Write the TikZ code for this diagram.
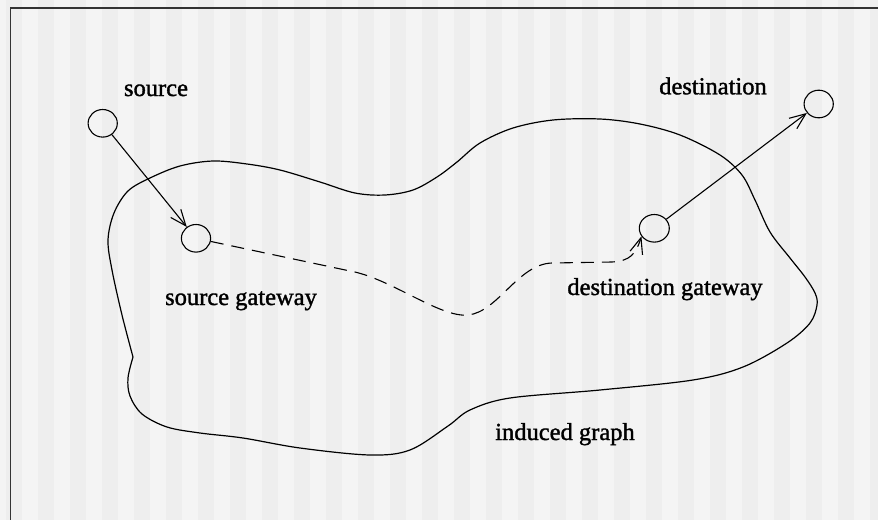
\documentclass[tikz,border=0pt]{standalone}
\usepackage{fontspec}
\setmainfont{Liberation Serif}
\newfontfamily\lblfont{Liberation Serif}[FakeBold=1.4]
\usetikzlibrary{shapes.geometric,arrows.meta,positioning}

\definecolor{stripelight}{HTML}{F4F4F4}
\definecolor{stripedark}{HTML}{EEEEEE}
\definecolor{framegray}{HTML}{333333}

\begin{document}
\begin{tikzpicture}[
  x=0.5pt, y=-0.5pt,
  font=\lblfont\fontsize{12.25}{14}\selectfont,
  hostnode/.style={draw, ellipse, line width=0.55pt, minimum width=14.6pt,
                   minimum height=13.8pt, inner sep=0pt},
  lbl/.style={anchor=base, inner sep=0pt},
  arr/.style={-{Straight Barb[length=8pt, width=6.5pt]}, line width=0.55pt},
  dashline/.style={arr, dash pattern=on 6.5pt off 4pt},
  blob/.style={line width=0.6pt},
]

%% ---------- background ----------
\useasboundingbox (0,0) rectangle (878,520);
\fill[stripelight] (0,0) rectangle (878,520);
\foreach \i in {0,...,27}
  \fill[stripedark] ({6+32*\i},0) rectangle ({22+32*\i},520);
\draw[framegray, line width=0.8pt] (878,8) -- (10.5,8) -- (10.5,520);

%% ---------- induced graph outline ----------
\draw[blob] plot[smooth, tension=0.55] coordinates {
  (133,357) (122,315) (112,270) (108,240) (114,213) (128,191) (150,178)
  (180,166) (213,161) (247,164) (280,170) (320,182) (355,193) (385,195)
  (413,190) (437,177) (457,162) (480,143) (513,128) (553,120) (600,119)
  (640,124) (680,135) (720,155) (742,175) (755,200) (770,232) (790,258)
  (805,277) (815,293) (817,305) (810,323) (787,343) (743,367) (693,380)
  (600,390) (510,398) (470,410) (448,426) (410,450) (370,455) (300,448)
  (243,438) (200,433) (167,427) (142,414) (130,396) (128,378) (133,357)};

%% ---------- hosts ----------
\node[hostnode] (src) at (102.7,123.3) {};
\node[hostnode] (srcgw) at (196,238.3) {};
\node[hostnode, minimum width=15pt] (dstgw) at (654.3,228.3) {};
\node[hostnode] (dst) at (818.7,104) {};

%% ---------- labels ----------
\node[lbl] (srclbl) at (156,96) {source};
\node[lbl] (dstlbl) at (713,94.3) {destination};
\node[lbl] (srcgwlbl) at (241,305) {source gateway};
\node[lbl] (dstgwlbl) at (665,295) {destination gateway};
\node[lbl] (graphlbl) at (565,440) {induced graph};

%% ---------- paths ----------
\draw[arr] (src) -- (srcgw);
\draw[arr] (dstgw) -- (dst);
\draw[dashline] (srcgw) -- (350,271)
  .. controls (390,278) and (440,318) .. (468,315)
  .. controls (498,312) and (518,264) .. (552,263)
  -- (612,262)
  .. controls (630,261) and (636,254) .. (dstgw.212);

\end{tikzpicture}
\end{document}
